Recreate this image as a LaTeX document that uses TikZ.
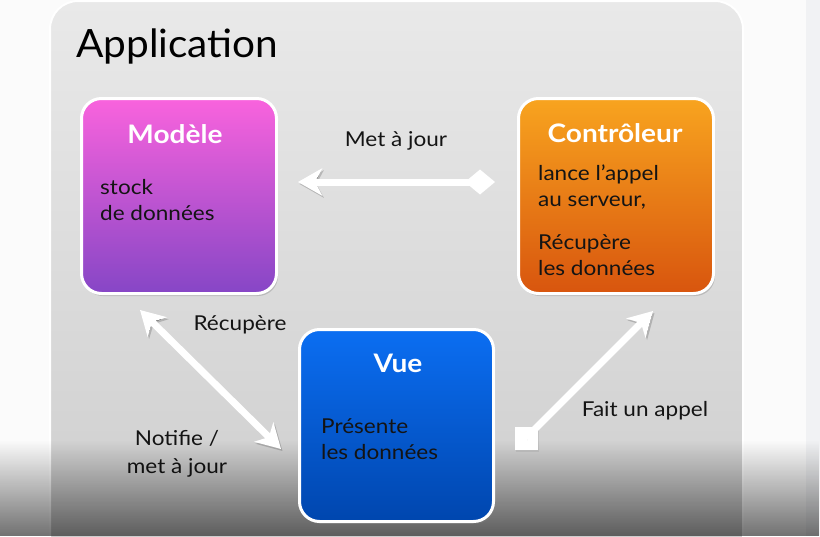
\documentclass[tikz,border=0pt]{standalone}
\usepackage{fontspec}
\setmainfont{Lato}[FakeStretch=1.1]
\newfontfamily\titlefont{Lato}[FakeStretch=1.04]
\usetikzlibrary{arrows.meta,shadows,fadings}
\tikzfading[name=fadebot, top color=transparent!100, bottom color=transparent!0]
\definecolor{bgwhite}{HTML}{FBFBFB}
\definecolor{stripgrey}{HTML}{F1F2F4}
\definecolor{panelTop}{HTML}{E9E9E9}
\definecolor{panelBot}{HTML}{CBCBCB}
\definecolor{modTop}{HTML}{F963DD}
\definecolor{modBot}{HTML}{8646C6}
\definecolor{ctlTop}{HTML}{F8A41F}
\definecolor{ctlBot}{HTML}{D8550E}
\definecolor{vueTop}{HTML}{0B6EF2}
\definecolor{vueBot}{HTML}{0046AE}
\definecolor{txt}{HTML}{141414}
\tikzset{
  box/.style={draw=white, line width=3pt, rounded corners=20pt,
    minimum width=195pt, minimum height=195pt, inner sep=0pt,
    drop shadow={opacity=0.35, shadow xshift=1.5pt, shadow yshift=-2.5pt}},
  ttl/.style={text=white, font=\fontsize{25.5}{28}\selectfont\bfseries},
  body/.style={text=txt, align=left, anchor=west, inner sep=0pt,
    font=\fontsize{20.5}{26.5}\selectfont},
  lbl/.style={text=txt, align=center, inner sep=0pt,
    font=\fontsize{20.5}{27.5}\selectfont},
  conn/.style={draw=white, line width=7pt,
    preaction={draw=black, draw opacity=0.18, transform canvas={shift={(1.5pt,-2pt)}}}},
  tip/.tip={Stealth[length=24pt, width=27pt, inset=7pt]}
}
\begin{document}
\begin{tikzpicture}[x=1pt,y=-1pt]
\useasboundingbox (0,0) rectangle (820,536);
\fill[bgwhite] (0,0) rectangle (820,536);
\fill[stripgrey] (806,0) rectangle (820,536);
% panel
\draw[draw=white, line width=2pt, top color=panelTop, bottom color=panelBot,
  rounded corners=28pt, drop shadow={opacity=0.3, shadow xshift=0pt, shadow yshift=-2pt}]
  (50,1) rectangle (743,600);
\node[anchor=base west, inner sep=0pt, text=black, font=\titlefont\fontsize{39}{44}\selectfont]
  (title) at (76,57) {Application};
% boxes
\node[box, top color=modTop, bottom color=modBot] (modele) at (179,196) {};
\node[box, top color=ctlTop, bottom color=ctlBot] (controleur) at (616,196) {};
% titles
\node[ttl] (tmod) at (175,134) {Modèle};
\node[ttl] (tctl) at (615,133) {Contrôleur};
% bodies
\node[body] (bmod) at (100,200) {stock\\de données};
\node[body] (bctl1) at (538,187) {lance l'appel\\au serveur,};
\node[body] (bctl2) at (538,255) {Récupère\\les données};
% labels
\node[lbl] (lmet) at (396,141) {Met à jour};
\node[lbl] (lrec) at (240,325) {Récupère};
\node[lbl] (lnot) at (177,454) {Notifie /\\met à jour};
\node[lbl] (lfait) at (645,411) {Fait un appel};
% bottom video overlay (behind the blue box)
\fill[black, path fading=fadebot, fill opacity=0.55] (0,440) rectangle (820,536);
% vue box
\node[box, top color=vueTop, bottom color=vueBot, minimum width=194pt, minimum height=192pt] (vue) at (396.5,425.5) {};
\node[ttl] (tvue) at (398,363) {Vue};
\node[body] (bvue) at (321,439) {Présente\\les données};
% connectors
\coordinate (c1) at (495,182);
\coordinate (c2) at (298,182);
\draw[conn, {Diamond[length=30pt, width=25pt]}-tip] (c1) -- (c2);
\coordinate (a1) at (140,310);
\coordinate (a2) at (281,449);
\draw[conn, tip-tip] (a1) -- (a2);
\node[fill=white, minimum size=23pt, inner sep=0pt,
  drop shadow={opacity=0.18, shadow xshift=1.5pt, shadow yshift=-2pt}] (sq) at (526,438) {};
\coordinate (b2) at (653,311);
\draw[conn, -tip] (sq.center) -- (b2);
\end{tikzpicture}
\end{document}
